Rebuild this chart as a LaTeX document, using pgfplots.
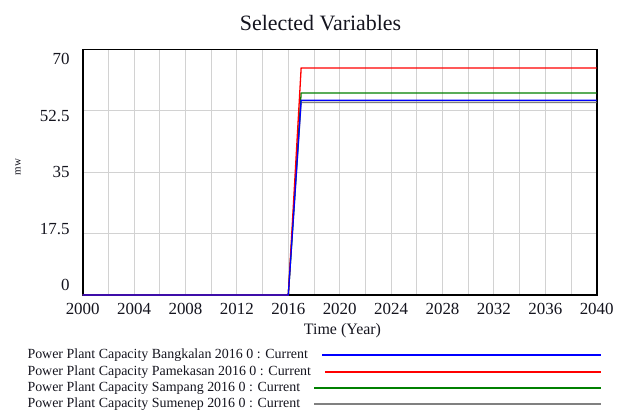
\documentclass[border=0pt]{standalone}
\usepackage{pgfplots}
\pgfplotsset{compat=1.18}
\usepackage{fontspec}
\setmainfont{Liberation Serif}

\definecolor{gridc}{RGB}{210,210,210}
\definecolor{vblue}{RGB}{0,0,255}
\definecolor{vred}{RGB}{255,0,0}
\definecolor{vgreen}{RGB}{0,128,0}
\definecolor{vgray}{RGB}{128,128,128}
\definecolor{txt}{RGB}{20,20,30}

\begin{document}
\begin{tikzpicture}
\useasboundingbox (0,0) rectangle (631bp,410bp);
\begin{axis}[
  at={(82.7bp,115bp)}, anchor=south west,
  scale only axis, width=514bp, height=245.6bp,
  xmin=2000, xmax=2040, ymin=0, ymax=70,
  xtick={2000,2004,...,2040},
  minor xtick={2002,2006,...,2038},
  ytick={0,17.5,35,52.5,70},
  grid=both,
  major grid style={gridc, line width=0.9bp},
  minor grid style={gridc, line width=0.9bp},
  major tick length=0pt, minor tick length=0pt,
  axis line style={black, line width=1.6bp},
  /pgf/number format/assume math mode=true,
  /pgf/number format/1000 sep={},
  xticklabel style={font=\fontsize{17}{19}\selectfont, text=txt, inner sep=0pt, anchor=north, yshift=-8.5bp},
  yticklabel style={font=\fontsize{17}{19}\selectfont, text=txt, inner sep=0pt, anchor=east, xshift=-13bp, yshift={(2-\ticknum)*4.9bp}},
  clip=false,
]
\addplot[vgray, line width=1.3bp] coordinates {(2000,0) (2016,0) (2017,54.9) (2040,54.9)};
\addplot[vgreen, line width=1.3bp] coordinates {(2000,0) (2016,0) (2017,57.6) (2040,57.6)};
\addplot[vred, line width=1.3bp] coordinates {(2000,0) (2016,0) (2017,64.7) (2040,64.7)};
\addplot[vblue, line width=1.3bp] coordinates {(2000,0) (2016,0) (2017,55.5) (2040,55.5)};
\end{axis}
% title and labels
\node[font=\fontsize{22}{25}\selectfont, text=txt] at (320.5bp,387bp) {Selected Variables};
\node[font=\fontsize{16}{18}\selectfont, text=txt] at (342.5bp,79bp) {Time (Year)};
\node[font=\fontsize{11}{13}\selectfont, text=txt, rotate=90] at (18bp,243bp) {mw};
% legend
\begin{scope}[every node/.style={font=\fontsize{14}{16}\selectfont, text=txt, inner sep=0pt, anchor=west}]
\node (l1) at (27.3bp,55bp) {Power Plant Capacity Bangkalan 2016 0 : Current};
\node (l2) at (27.3bp,38.3bp) {Power Plant Capacity Pamekasan 2016 0 : Current};
\node (l3) at (27.3bp,21.7bp) {Power Plant Capacity Sampang 2016 0 : Current};
\node (l4) at (27.3bp,5.5bp) {Power Plant Capacity Sumenep 2016 0 : Current};
\end{scope}
\draw[vblue, line width=1.4bp] ([xshift=14bp]l1.east |- 0,55bp) -- (601bp,55bp);
\draw[vred, line width=1.4bp] ([xshift=14bp]l2.east |- 0,38bp) -- (601bp,38bp);
\draw[vgreen, line width=1.4bp] ([xshift=14bp]l3.east |- 0,22bp) -- (601bp,22bp);
\draw[vgray, line width=1.4bp] ([xshift=14bp]l4.east |- 0,6bp) -- (601bp,6bp);
\end{tikzpicture}
\end{document}
